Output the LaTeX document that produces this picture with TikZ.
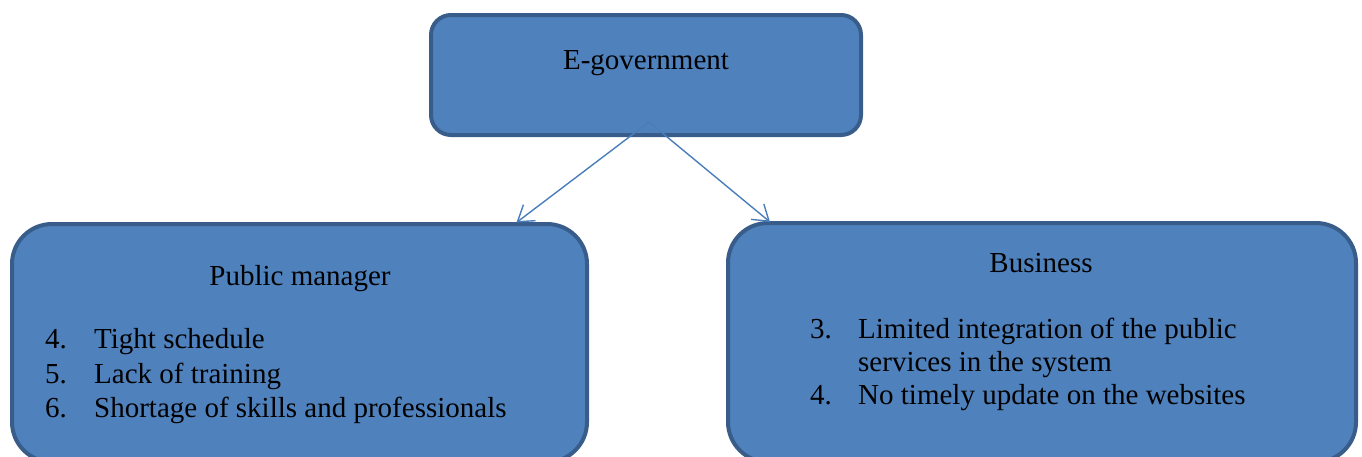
\documentclass[tikz,border=0pt]{standalone}
\usepackage{fontspec}
\setmainfont{Liberation Serif}
\usetikzlibrary{arrows.meta}
\definecolor{boxfill}{HTML}{4F81BD}
\definecolor{boxline}{HTML}{385D8A}
\definecolor{arrowline}{HTML}{4A7EBB}
\begin{document}
\begin{tikzpicture}[x=1pt,y=-1pt,
  box/.style={draw=boxline, fill=boxfill, line width=4pt, inner sep=0pt, outer sep=0pt, anchor=north west},
  txt/.style={inner sep=0pt, anchor=base west, font=\fontsize{29}{34}\selectfont},
  ctxt/.style={inner sep=0pt, anchor=base, font=\fontsize{29}{34}\selectfont},
  arr/.style={draw=arrowline, line width=1.4pt, -{Straight Barb[length=15pt,width=20pt,line width=1.4pt]}}]
\useasboundingbox (0,0) rectangle (1362,456);

% boxes
\node[box, rounded corners=20pt, minimum width=430pt, minimum height=120pt] (eg) at (431,15) {};
\node[box, rounded corners=40pt, minimum width=575pt, minimum height=238pt] (pm) at (12,224) {};
\node[box, rounded corners=40pt, minimum width=628pt, minimum height=239pt] (bu) at (728,223) {};

% titles
\node[ctxt] (egt) at (646,69) {E-government};
\node[ctxt] (pmt) at (300,285) {Public manager};
\node[ctxt] (but) at (1041,272) {Business};

% public manager list
\node[txt] (pn1) at (45,348) {4.};
\node[txt] (pi1) at (94,348) {Tight schedule};
\node[txt] (pn2) at (45,383) {5.};
\node[txt] (pi2) at (94,383) {Lack of training};
\node[txt] (pn3) at (45,417) {6.};
\node[txt] (pi3) at (94,417) {Shortage of skills and professionals};

% business list
\node[txt] (bn1) at (810,338) {3.};
\node[txt] (bi1) at (858,338) {Limited integration of the public};
\node[txt] (bi1b) at (858,371) {services in the system};
\node[txt] (bn2) at (810,404) {4.};
\node[txt] (bi2) at (858,404) {No timely update on the websites};

% connectors
\coordinate (src) at ([xshift=3pt,yshift=13pt]eg.south);
\draw[arr] (src) -- ([xshift=217pt,yshift=1.5pt]pm.north);
\draw[arr] (src) -- ([xshift=-272pt,yshift=1pt]bu.north);
\end{tikzpicture}
\end{document}
